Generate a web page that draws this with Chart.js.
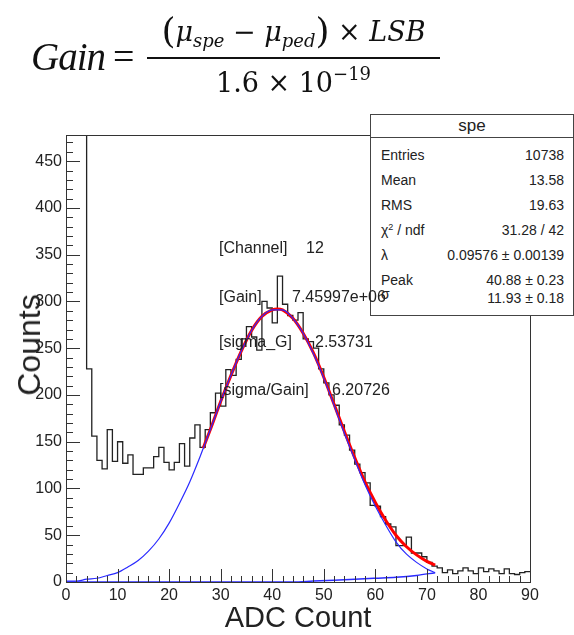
<!DOCTYPE html>
<html>
<head>
<meta charset="utf-8">
<script src="https://cdn.jsdelivr.net/npm/chart.js@4"></script>
<style>
body { margin: 0; background: #fff; }
#wrap { position: relative; width: 574px; height: 635px; overflow: hidden; font-family: "Liberation Sans", Arial, sans-serif; color: #222; }
#c { position: absolute; left: 0; top: 0; }
.abs { position: absolute; white-space: nowrap; }
.serif { font-family: "Liberation Serif", serif; color: #111; }
.dv { font-family: "DejaVu Serif", serif; color: #111; }
.it { font-style: italic; }
.sub { font-size: 18px; position: relative; top: 6px; }
.sup { font-size: 18px; position: relative; top: -12px; }
#stats { position: absolute; left: 370px; top: 114px; width: 202px; height: 200px; border: 1px solid #444; background: #fff; font-size: 14px; }
#stats .hd { position: absolute; left: 0; top: 0; width: 100%; height: 22px; border-bottom: 1px solid #444; text-align: center; font-size: 17px; line-height: 22px; }
#stats .lb { position: absolute; left: 10px; line-height: 16px; }
#stats .vl { position: absolute; right: 9px; line-height: 16px; }
.info { font-size: 16px; line-height: 18px; }
</style>
</head>
<body>
<div id="wrap">
  <canvas id="c" width="574" height="635"></canvas>

  <!-- gain formula -->
  <div class="abs serif it" style="left:31px; top:37px; font-size:39px; line-height:39px; letter-spacing:-1px;">Gain</div>
  <div class="abs serif" style="left:113px; top:37px; font-size:38px; line-height:38px;">=</div>
  <div class="abs dv" style="left:145px; top:14px; width:297px; text-align:center; font-size:27px; line-height:30px;"><span style="font-size:36px; position:relative; top:2px;">(</span><span class="it">μ<span class="sub">spe</span></span> − <span class="it">μ<span class="sub">ped</span></span><span style="font-size:36px; position:relative; top:2px;">)</span> × <span class="it">LSB</span></div>
  <div class="abs" style="left:147px; top:57px; width:293px; height:2px; background:#111;"></div>
  <div class="abs dv" style="left:147px; top:68px; width:293px; text-align:center; font-size:27px; line-height:30px;">1.6 × 10<span class="sup">−19</span></div>

  <div id="stats"><div class="hd">spe</div></div>

  <div class="abs" style="left:29px; top:345px; font-size:32px; line-height:32px; transform: translate(-50%, -50%) rotate(-90deg);">Counts</div>
  <div class="abs" style="left:0; width:596px; top:602px; text-align:center; font-size:29px; line-height:30px;">ADC Count</div>
</div>
<script>
// histogram: 1 ADC count per bin, bins 0..89 (first bins are the pedestal, off scale)
const counts = [
  1850, 3100, 2050, 720,
  228, 156, 130, 121, 163, 129, 150, 127, 136, 115, 115, 122, 122, 134, 144, 128, 120, 128, 148, 124,
  154, 168, 144, 163, 181, 202, 188, 227, 221, 238, 260, 273, 262, 248, 300, 293, 277, 327,
  297, 285, 280, 288, 260, 257, 250, 228, 213, 200, 189, 168, 157, 141, 126, 117, 106, 82, 81, 70,
  62, 59, 39, 39, 48, 31, 31, 27, 21, 17,
  15, 10, 13, 9, 12, 15, 12, 9, 15, 11, 14, 12, 9, 14, 9, 8, 10, 11
];

// total fit (red)
const fitX = [26.6, 28, 30, 32, 34, 36, 38, 40, 41, 42, 44, 46, 48, 50, 52, 54, 56, 58, 60, 62, 64, 66, 68, 70, 71.6];
const fitY = [143, 163, 193, 221, 247, 269, 284, 291, 292, 291, 282, 266, 245, 219, 190, 161, 133, 107, 85, 66, 50, 38, 29, 22, 18];

// single p.e. gaussian (blue)
const speX = [0, 2, 4, 6, 8, 10, 12, 14, 16, 18, 20, 22, 24, 26, 28, 30, 32, 34, 36, 38, 40, 42, 44, 46, 48, 50, 52, 54, 56, 58, 60, 62, 64, 66, 68, 70, 71.6];
const speY = [1, 1, 3, 4, 7, 10, 16, 23, 33, 46, 63, 84, 107, 134, 163, 193, 221, 247, 269, 284, 291, 291, 282, 266, 244, 218, 189, 159, 131, 104, 81, 61, 43, 30, 21, 14, 10];

// low component along the bottom (blue)
const lowX = [0, 44, 48, 52, 56, 60, 64, 68, 71.6];
const lowY = [0, 0, 1, 2, 3, 4, 5, 7, 10];

const xTicks = [0, 10, 20, 30, 40, 50, 60, 70, 80, 90];
const yTicks = [0, 50, 100, 150, 200, 250, 300, 350, 400, 450];
const xMinorStep = 2, yMinorStep = 10;
const yTop = 478;

const statLabels = ['Entries', 'Mean', 'RMS', 'χ<span style="font-size:9px; position:relative; top:-5px;">2</span> / ndf', 'λ', 'Peak', 'σ'];
const statValues = ['10738', '13.58', '19.63', '31.28 / 42', '0.09576 ± 0.00139', '40.88 ± 0.23', '11.93 ± 0.18'];

const infoKeys = ['[Channel]', '[Gain]', '[sigma_G]', '[sigma/Gain]'];
const infoVals = ['12', '7.45997e+06', '2.53731', '6.20726'];

// stats box rows
const statsBox = document.getElementById('stats');
const rowTop = [32, 57, 82, 107, 132, 157, 171];
const valTop = [32, 57, 82, 107, 132, 157, 175];
statLabels.forEach((l, i) => {
    statsBox.insertAdjacentHTML('beforeend',
        `<div class="lb" style="top:${rowTop[i]}px">${l}</div><div class="vl" style="top:${valTop[i]}px">${statValues[i]}</div>`);
});

// fit info text
const wrap = document.getElementById('wrap');
const infoY = [239, 288, 333, 381];
const infoValX = [306, 292, 315, 332];
infoKeys.forEach((k, i) => {
    wrap.insertAdjacentHTML('beforeend',
        `<div class="abs info" style="left:219px; top:${infoY[i]}px">${k}</div><div class="abs info" style="left:${infoValX[i]}px; top:${infoY[i]}px">${infoVals[i]}</div>`);
});

const histPts = counts.map((v, i) => ({ x: i, y: v }));
histPts.push({ x: counts.length, y: counts[counts.length - 1] });

// ROOT-like frame with inward ticks
const frameTicks = {
    id: 'frameTicks',
    afterDatasetsDraw(chart) {
        const { ctx, chartArea: a, scales: { x, y } } = chart;
        ctx.save();
        ctx.strokeStyle = '#333';
        ctx.lineWidth = 1;
        ctx.strokeRect(Math.round(a.left) + 0.5, Math.round(a.top) + 0.5, Math.round(a.right - a.left), Math.round(a.bottom - a.top));
        ctx.beginPath();
        for (let v = 0; v <= yTop; v += yMinorStep) {
            const py = Math.round(y.getPixelForValue(v)) + 0.5;
            const len = yTicks.includes(v) ? 14 : 7;
            ctx.moveTo(a.left, py);
            ctx.lineTo(a.left + len, py);
        }
        for (let v = 0; v <= 90; v += xMinorStep) {
            const px = Math.round(x.getPixelForValue(v)) + 0.5;
            const len = xTicks.includes(v) ? 13 : 6;
            ctx.moveTo(px, a.bottom);
            ctx.lineTo(px, a.bottom - len);
        }
        ctx.stroke();
        ctx.restore();
    }
};

const tickFont = { family: '"Liberation Sans", Arial, sans-serif', size: 16 };

new Chart(document.getElementById('c').getContext('2d'), {
    type: 'line',
    data: {
        datasets: [
            {
                label: 'spe',
                data: histPts,
                stepped: true,
                borderColor: '#222',
                borderWidth: 1.3,
                pointRadius: 0,
                fill: false,
                order: 3
            },
            {
                label: 'fit',
                data: fitX.map((v, i) => ({ x: v, y: fitY[i] })),
                borderColor: '#ff0000',
                borderWidth: 3,
                pointRadius: 0,
                cubicInterpolationMode: 'monotone',
                order: 2
            },
            {
                label: 'gaus',
                data: speX.map((v, i) => ({ x: v, y: speY[i] })),
                borderColor: '#2a2aff',
                borderWidth: 1.2,
                pointRadius: 0,
                cubicInterpolationMode: 'monotone',
                order: 1
            },
            {
                label: 'low',
                data: lowX.map((v, i) => ({ x: v, y: lowY[i] })),
                borderColor: '#2a2aff',
                borderWidth: 1.5,
                pointRadius: 0,
                cubicInterpolationMode: 'monotone',
                order: 0
            }
        ]
    },
    options: {
        responsive: false,
        animation: false,
        events: [],
        layout: { padding: { top: 135, right: 44, left: 0, bottom: 0 } },
        plugins: {
            legend: { display: false },
            tooltip: { enabled: false }
        },
        scales: {
            x: {
                type: 'linear',
                min: 0,
                max: 90,
                grid: { display: false, drawTicks: false },
                border: { display: false },
                afterBuildTicks: s => { s.ticks = xTicks.map(v => ({ value: v })); },
                afterFit: s => { s.height = 53; },
                ticks: { font: tickFont, color: '#222', padding: 4, maxRotation: 0, autoSkip: false }
            },
            y: {
                min: 0,
                max: yTop,
                grid: { display: false, drawTicks: false },
                border: { display: false },
                afterBuildTicks: s => { s.ticks = yTicks.map(v => ({ value: v })); },
                afterFit: s => { s.width = 66; },
                ticks: { font: tickFont, color: '#222', padding: 4, autoSkip: false }
            }
        }
    },
    plugins: [frameTicks]
});
</script>
</body>
</html>
